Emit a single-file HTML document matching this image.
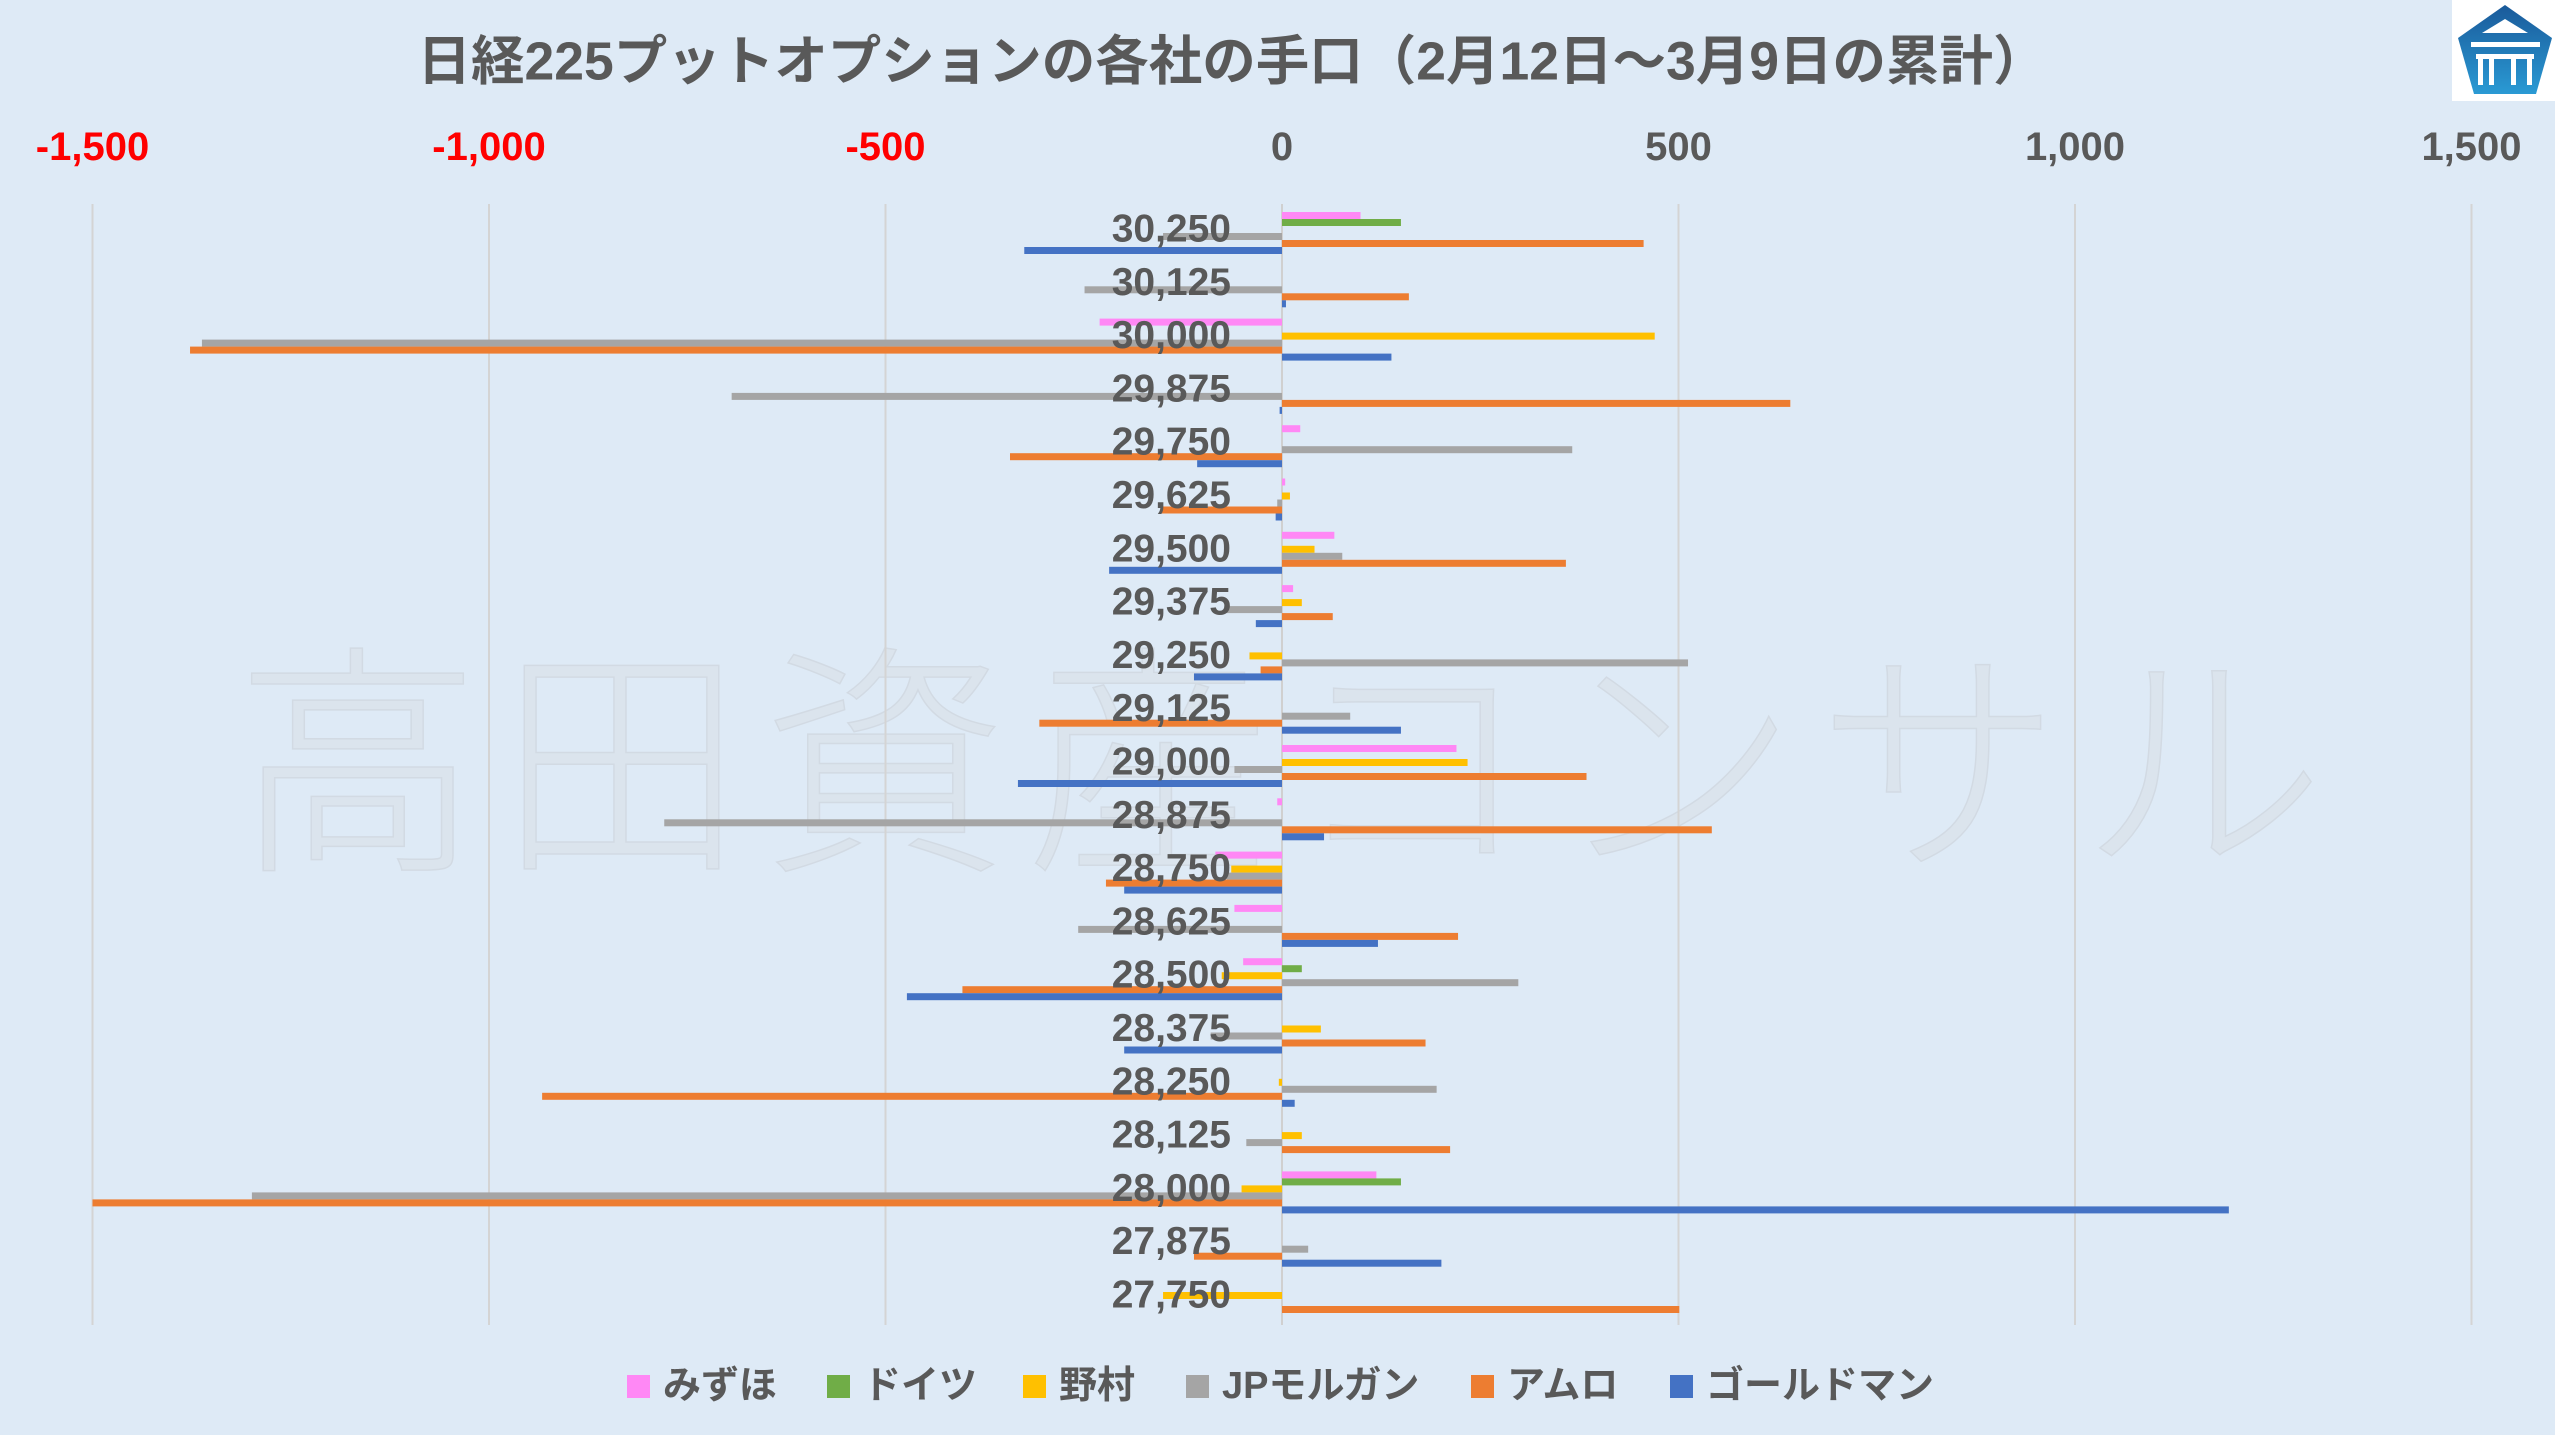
<!DOCTYPE html>
<html><head><meta charset="utf-8"><style>
html,body{margin:0;padding:0;background:#deeaf6;}
svg{display:block;font-family:"Liberation Sans","Noto Sans CJK JP",sans-serif;}
</style></head><body>
<svg id="chart" width="2555" height="1435" viewBox="0 0 2555 1435">
<rect x="0" y="0" width="2555" height="1435" fill="#deeaf6"/>
<text x="1280" y="616" font-size="245" font-weight="200" fill="#dbe2ea" stroke="#cdd4dc" stroke-width="1.5" opacity="0.7" text-anchor="middle" dominant-baseline="central" textLength="2090" lengthAdjust="spacing" font-family="'Noto Sans CJK JP',sans-serif" transform="translate(0,130)">高田資産コンサル</text>
<text x="1232" y="62" font-size="53.5" font-weight="bold" fill="#595959" text-anchor="middle" dominant-baseline="central">日経225プットオプションの各社の手口（2月12日～3月9日の累計）</text>
<g>
<rect x="2452" y="0" width="103" height="101" fill="#ffffff"/>
<defs><linearGradient id="lg" x1="0" y1="0" x2="0" y2="1"><stop offset="0" stop-color="#1a5a9a"/><stop offset="1" stop-color="#2a9ad4"/></linearGradient></defs>
<polygon points="2505,5 2552,38 2536,94 2474,94 2458,38" fill="url(#lg)"/>
<polygon points="2505,19 2528,33 2482,33" fill="#fff"/>
<rect x="2471" y="42" width="69" height="5" fill="#fff"/>
<rect x="2476" y="54" width="58" height="5" fill="#fff"/>
<rect x="2478" y="59" width="5" height="26" fill="#fff"/>
<rect x="2489" y="59" width="5" height="26" fill="#fff"/>
<rect x="2511" y="59" width="5" height="26" fill="#fff"/>
<rect x="2527" y="59" width="5" height="26" fill="#fff"/>
</g>
<g id="grid"></g>
<g id="bars"></g>
<g id="labels"></g>
<g id="legend"></g>
</svg>
<script>
const categories = ["30,250","30,125","30,000","29,875","29,750","29,625","29,500","29,375","29,250","29,125","29,000","28,875","28,750","28,625","28,500","28,375","28,250","28,125","28,000","27,875","27,750"];
const seriesNames = ["みずほ","ドイツ","野村","JPモルガン","アムロ","ゴールドマン"];
const seriesColors = ["#ff88f5","#70ad47","#ffc000","#a5a5a5","#ed7d31","#4472c4"];
const mizuho  = [99,0,-230,0,23,4,66,14,0,0,220,-6,-84,-60,-49,0,0,0,119,0,0];
const deutsche= [150,0,0,0,0,0,0,0,0,0,0,0,0,0,25,0,0,0,150,0,0];
const nomura  = [0,0,470,0,0,10,41,25,-41,0,234,0,-64,0,-76,49,-4,25,-51,0,-150];
const jpm     = [-150,-249,-1362,-694,366,-6,76,-70,512,86,-60,-779,-70,-257,298,-90,195,-45,-1299,33,0];
const amuro   = [456,160,-1377,641,-343,-152,358,64,-27,-306,384,542,-222,222,-403,181,-933,212,-1500,-111,501];
const goldman = [-325,5,138,-3,-107,-8,-218,-33,-111,150,-333,53,-199,121,-473,-199,16,0,1194,201,0];
const series = [mizuho,deutsche,nomura,jpm,amuro,goldman];
const tickValues = [-1500,-1000,-500,0,500,1000,1500];
const tickLabels = ["-1,500","-1,000","-500","0","500","1,000","1,500"];

const NS="http://www.w3.org/2000/svg";
const X0=1282, XS=0.793, Y0=233, ROW=53.3, BH=7;
function xs(v){return X0+v*XS;}
function yc(i){return Y0+i*ROW;}
function mk(tag,attrs,parent){const e=document.createElementNS(NS,tag);for(const k in attrs)e.setAttribute(k,attrs[k]);parent.appendChild(e);return e;}

const grid=document.getElementById('grid');
tickValues.forEach((v,i)=>{
  const l=mk('line',{x1:xs(v),x2:xs(v),y1:204,y2:1325,stroke:v===0?'#d0d0d0':'#d4d4d4','stroke-width':2},grid);
  
  
  const t=mk('text',{x:xs(v),y:147,'font-size':40,'font-weight':'bold','text-anchor':'middle','dominant-baseline':'central',fill:v<0?'#ff0000':'#595959'},grid);
  t.textContent=tickLabels[i];
  
  
});

const bars=document.getElementById('bars');
series.forEach((s,k)=>{
  s.forEach((v,i)=>{
    if(v===0)return;
    const x1=xs(Math.min(0,v)), x2=xs(Math.max(0,v));
    const r=mk('rect',{x:x1,y:yc(i)-21+k*BH,width:Math.max(1,x2-x1),height:BH,fill:seriesColors[k]},bars);
    
    
  });
});

const labels=document.getElementById('labels');
categories.forEach((c,i)=>{
  const t=mk('text',{x:1231,y:yc(i)-4,'font-size':39,'font-weight':'bold','text-anchor':'end','dominant-baseline':'central',fill:'#595959'},labels);
  t.textContent=c;
  
  
});

const legend=document.getElementById('legend');
const legX=[627,827,1023,1186,1471,1670];
seriesNames.forEach((n,k)=>{
  const g=mk('g',{},legend);
  
  
  mk('rect',{x:legX[k],y:1375,width:23,height:23,fill:seriesColors[k]},g);
  const t=mk('text',{x:legX[k]+36,y:1386,'font-size':38,'font-weight':'bold','dominant-baseline':'central',fill:'#595959'},g);
  t.textContent=n;
});
</script>
</body></html>
